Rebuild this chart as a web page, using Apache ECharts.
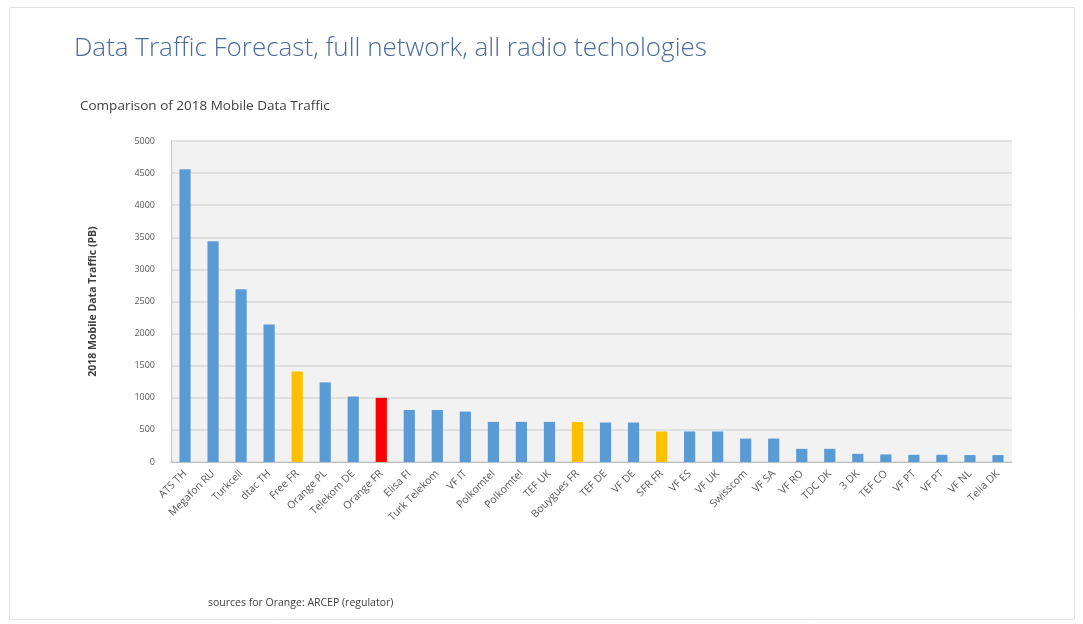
<!DOCTYPE html>
<html>
<head>
<meta charset="utf-8">
<script src="https://cdn.jsdelivr.net/npm/echarts@6/dist/echarts.min.js"></script>
<style>
html,body{margin:0;padding:0;background:#fff;}
#c{width:1083px;height:624px;}
</style>
</head>
<body>
<div id="c"></div>
<script>
const categories = ['ATS TH','Megafon RU','Turkcell','dtac TH','Free FR','Orange PL','Telekom DE','Orange FR','Elisa FI','Turk Telekom','VF IT','Polkomtel','Polkomtel','TEF UK','Bouygues FR','TEF DE','VF DE','SFR FR','VF ES','VF UK','Swisscom','VF SA','VF RO','TDC DK','3 DK','TEF CO','VF PT','VF PT','VF NL','Telia DK'];
const traffic2018 = [4560,3440,2690,2140,1410,1240,1020,1000,810,810,785,625,625,625,625,615,615,475,475,475,365,365,205,205,128,118,112,112,108,108];
const yTicks = [0,500,1000,1500,2000,2500,3000,3500,4000,4500,5000];
const frenchCompetitors = ['Free FR','Bouygues FR','SFR FR'];
const highlighted = ['Orange FR'];

const chart = echarts.init(document.getElementById('c'));
const font = '"Open Sans", "Liberation Sans", sans-serif';
chart.setOption({
  animation: false,
  backgroundColor: '#ffffff',
  graphic: [
    {type:'rect', shape:{x:9.5,y:7.5,width:1065,height:612}, style:{fill:'none', stroke:'#e4e4e4', lineWidth:1}},
    {type:'text', left:74, top:36, style:{text:'Data Traffic Forecast, full network, all radio techologies', fill:'#4a6b9c', font:'300 26px ' + font}},
    {type:'text', left:80, top:99, style:{text:'Comparison of 2018 Mobile Data Traffic', fill:'#404040', font:'13.5px ' + font}},
    {type:'text', left:208, top:598, style:{text:'sources for Orange: ARCEP (regulator)', fill:'#404040', font:'10.5px ' + font}}
  ],
  grid: {left:171, right:71, top:141, bottom:162, show:true, backgroundColor:'#f2f2f2', borderWidth:0},
  xAxis: {
    type:'category', data: categories,
    axisLine:{lineStyle:{color:'#bfbfbf'}},
    axisTick:{show:false},
    axisLabel:{rotate:45, fontSize:10.5, color:'#595959', fontFamily:font, interval:0, margin:10}
  },
  yAxis: {
    type:'value', min:yTicks[0], max:yTicks[yTicks.length-1], interval:yTicks[1]-yTicks[0],
    name:'2018 Mobile Data Traffic (PB)', nameLocation:'middle', nameGap:72, nameRotate:90,
    nameTextStyle:{fontSize:10.5, fontWeight:'bold', color:'#404040', fontFamily:font},
    axisLine:{show:true, lineStyle:{color:'#b4c7e7'}},
    axisTick:{show:false},
    axisLabel:{fontSize:9, color:'#595959', fontFamily:font, margin:16, formatter: v => String(v)},
    splitLine:{lineStyle:{color:'#d9d9d9', width:1.5}}
  },
  series: [{
    type:'bar', data: traffic2018, barWidth:'40%',
    itemStyle:{color: p => highlighted.includes(categories[p.dataIndex]) ? '#ff0000' : (frenchCompetitors.includes(categories[p.dataIndex]) ? '#ffc000' : '#5b9bd5')}
  }]
});
</script>
</body>
</html>
